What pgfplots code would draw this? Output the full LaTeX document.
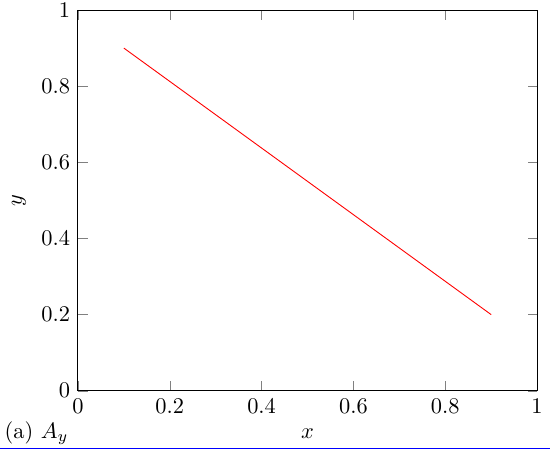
\documentclass[border=0pt]{standalone}
\usepackage{pgfplots}
\pgfplotsset{compat=1.18}
\begin{document}
\begin{tikzpicture}
\begin{axis}[name=ax, scale only axis, width=205pt, height=170pt,
  xmin=0, xmax=1, ymin=0, ymax=1,
  xlabel={$x$}, ylabel={$y$},
  every axis x label/.append style={name=xl}]
\addplot[red] coordinates {(0.1,0.9) (0.9,0.2)};
\end{axis}
\coordinate (BL) at ([xshift=-34.8pt]ax.south west);
\coordinate (BR) at ([xshift=7.1pt]ax.south east);
\node[anchor=base west, inner sep=0pt] (cap) at ([xshift=1.9pt]BL |- xl.base) {(a) $A_y$};
\draw[blue, line width=0.5pt] ([yshift=-25.9pt]BL) -- ([yshift=-25.9pt,xshift=-1.3pt]BR);
\pgfresetboundingbox
\useasboundingbox ([yshift=-27.2pt]BL) rectangle ([yshift=4.47pt]BR |- ax.north);
\end{tikzpicture}
\end{document}
